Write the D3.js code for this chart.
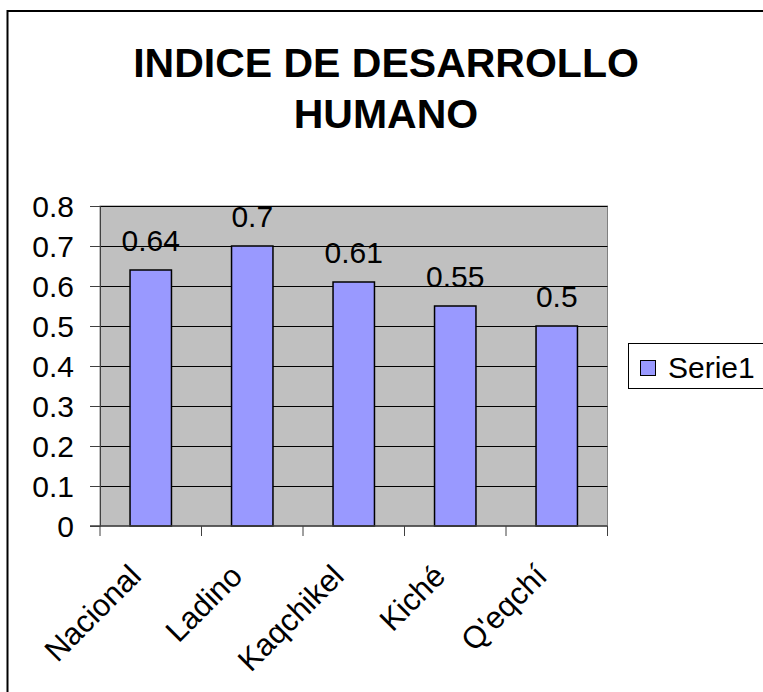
<!DOCTYPE html>
<html>
<head>
<meta charset="utf-8">
<script src="https://cdn.jsdelivr.net/npm/d3@7"></script>
<style>
  body { margin: 0; background: #fff; }
  svg text { font-family: Arial, "Liberation Sans", sans-serif; fill: #000; }
</style>
</head>
<body>
<div id="chart"></div>
<script>
  // datos
  var categorias = ['Nacional', 'Ladino', 'Kaqchikel', 'Kiché', "Q'eqchí"];
  var valores = [0.64, 0.7, 0.61, 0.55, 0.5];
  var ticksY = [0, 0.1, 0.2, 0.3, 0.4, 0.5, 0.6, 0.7, 0.8];
  var tituloLineas = ['INDICE DE DESARROLLO', 'HUMANO'];
  var serieNombre = 'Serie1';

  var width = 763, height = 692;
  var plot = { left: 100, top: 206, right: 607.5, bottom: 526 };

  var svg = d3.select('#chart').append('svg')
    .attr('width', width)
    .attr('height', height);

  // marco exterior
  svg.append('rect')
    .attr('x', 7.5).attr('y', 11)
    .attr('width', 820).attr('height', 720)
    .style('fill', 'none')
    .style('stroke', '#000')
    .style('stroke-width', 2);

  // titulo
  svg.append('text')
    .attr('text-anchor', 'middle')
    .style('font-size', '41px')
    .style('font-weight', 'bold')
    .selectAll('tspan')
    .data(tituloLineas)
    .enter().append('tspan')
    .attr('x', 386)
    .attr('y', function (d, i) { return 77 + i * 51; })
    .text(function (d) { return d; });

  var x = d3.scaleBand()
    .domain(categorias)
    .range([plot.left, plot.right]);

  var y = d3.scaleLinear()
    .domain([0, 0.8])
    .range([plot.bottom, plot.top]);

  // area del grafico
  svg.append('rect')
    .attr('x', plot.left).attr('y', plot.top)
    .attr('width', plot.right - plot.left)
    .attr('height', plot.bottom - plot.top)
    .style('fill', '#c0c0c0')
    .style('stroke', '#808080')
    .style('stroke-width', 1);

  // lineas de division
  svg.append('g')
    .selectAll('line')
    .data(ticksY.slice(1))
    .enter().append('line')
    .attr('x1', plot.left).attr('x2', plot.right)
    .attr('y1', function (d) { return Math.round(y(d)) + 0.5; })
    .attr('y2', function (d) { return Math.round(y(d)) + 0.5; })
    .style('stroke', '#000')
    .style('stroke-width', 1);

  // eje Y
  var ejeY = svg.append('g')
    .attr('transform', 'translate(' + plot.left + ',0)')
    .call(d3.axisLeft(y)
      .tickValues(ticksY)
      .tickFormat(function (d) { return d === 0 ? '0' : d3.format('.1f')(d); })
      .tickSize(10)
      .tickPadding(16));
  ejeY.select('.domain').style('stroke', '#404040');
  ejeY.selectAll('.tick line').style('stroke', '#404040');
  ejeY.selectAll('text')
    .style('font-size', '30px')
    .style('font-family', 'Arial, "Liberation Sans", sans-serif')
    .attr('dy', '0.36em');

  // barras
  var anchoBarra = x.bandwidth() / 2.45;
  svg.append('g')
    .selectAll('rect')
    .data(valores)
    .enter().append('rect')
    .attr('x', function (d, i) { return x(categorias[i]) + (x.bandwidth() - anchoBarra) / 2; })
    .attr('y', function (d) { return y(d); })
    .attr('width', anchoBarra)
    .attr('height', function (d) { return y(0) - y(d); })
    .style('fill', '#9999ff')
    .style('stroke', '#000')
    .style('stroke-width', 1.5);

  // etiquetas de datos
  svg.append('g')
    .selectAll('text')
    .data(valores)
    .enter().append('text')
    .attr('x', function (d, i) { return x(categorias[i]) + x.bandwidth() / 2; })
    .attr('y', function (d) { return y(d) - 19; })
    .attr('text-anchor', 'middle')
    .style('font-size', '30px')
    .text(function (d) { return String(d); });

  // eje X
  svg.append('line')
    .attr('x1', plot.left - 10).attr('x2', plot.right)
    .attr('y1', plot.bottom).attr('y2', plot.bottom)
    .style('stroke', '#404040')
    .style('stroke-width', 1.5);

  var bordes = categorias.map(function (c) { return x(c); }).concat([plot.right]);
  svg.append('g')
    .selectAll('line')
    .data(bordes)
    .enter().append('line')
    .attr('x1', function (d) { return d; })
    .attr('x2', function (d) { return d; })
    .attr('y1', plot.bottom)
    .attr('y2', plot.bottom + 10)
    .style('stroke', '#404040');

  svg.append('g')
    .selectAll('text')
    .data(categorias)
    .enter().append('text')
    .attr('text-anchor', 'end')
    .attr('transform', function (d) {
      var cx = x(d) + x.bandwidth() / 2 - 8;
      return 'translate(' + cx + ',' + (plot.bottom + 52) + ') rotate(-45)';
    })
    .style('font-size', '31px')
    .text(function (d) { return d; });

  // leyenda
  var leyenda = svg.append('g');
  leyenda.append('rect')
    .attr('x', 628.5).attr('y', 343.5)
    .attr('width', 200).attr('height', 45)
    .style('fill', '#fff')
    .style('stroke', '#000')
    .style('stroke-width', 1);
  leyenda.append('rect')
    .attr('x', 640.5).attr('y', 360.5)
    .attr('width', 15).attr('height', 15)
    .style('fill', '#9999ff')
    .style('stroke', '#000')
    .style('stroke-width', 1);
  leyenda.append('text')
    .attr('x', 668).attr('y', 378)
    .style('font-size', '30px')
    .text(serieNombre);
</script>
</body>
</html>
